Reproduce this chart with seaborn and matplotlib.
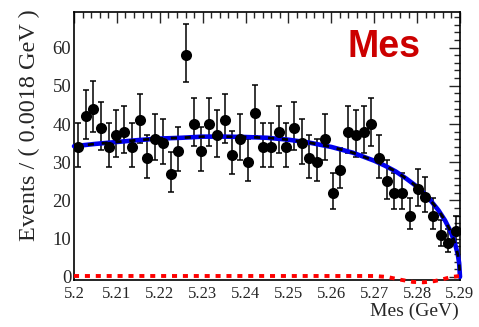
import numpy as np
import pandas as pd
import matplotlib
matplotlib.use("Agg")
import matplotlib.pyplot as plt
from matplotlib.ticker import MultipleLocator
import seaborn as sns

# ---- data ----
bin_lo = 5.20
bin_width = 0.0018
counts = [34, 42, 44, 39, 34, 37, 38, 34, 41, 31,
          36, 35, 27, 33, 58, 40, 33, 40, 37, 41,
          32, 36, 30, 43, 34, 34, 38, 34, 39, 35,
          31, 30, 36, 22, 28, 38, 37, 38, 40, 31,
          25, 22, 22, 16, 23, 21, 16, 11, 9, 12]

fit_x = [5.200, 5.205, 5.210, 5.215, 5.220, 5.225, 5.230, 5.235, 5.240, 5.245,
         5.250, 5.255, 5.260, 5.265, 5.270, 5.2725, 5.275, 5.2775, 5.280, 5.2825,
         5.285, 5.2865, 5.2875, 5.2885, 5.289, 5.2895, 5.2898, 5.290]
fit_y = [34.2, 34.8, 35.3, 35.8, 36.2, 36.4, 36.7, 36.7, 36.6, 36.4,
         35.9, 35.1, 34.0, 32.5, 30.4, 29.1, 27.6, 25.7, 23.6, 20.9,
         17.4, 14.8, 12.6, 9.9, 8.0, 5.8, 3.6, 0.0]

peak_x = [5.200, 5.270, 5.273, 5.276, 5.279, 5.2815, 5.284, 5.286, 5.288, 5.290]
peak_y = [0.25, 0.25, 0.0, -0.7, -1.3, -1.4, -1.1, -0.6, 0.0, 0.25]

xticks = [5.20, 5.21, 5.22, 5.23, 5.24, 5.25, 5.26, 5.27, 5.28, 5.29]
xtick_labels = ["5.2", "5.21", "5.22", "5.23", "5.24", "5.25", "5.26", "5.27", "5.28", "5.29"]
yticks = [0, 10, 20, 30, 40, 50, 60]

# ---- build frames ----
centers = bin_lo + bin_width * (np.arange(len(counts)) + 0.5)
cnt = np.array(counts, dtype=float)
err_up = 0.5 + np.sqrt(cnt + 0.25)
err_lo = -0.5 + np.sqrt(cnt + 0.25)
df_pts = pd.DataFrame({"m": centers, "n": cnt})
df_fit = pd.DataFrame({"m": fit_x, "y": fit_y})
df_peak = pd.DataFrame({"m": peak_x, "y": peak_y})

sns.set_style("white")
plt.rcParams["font.family"] = ["Liberation Serif", "DejaVu Serif"]

fig = plt.figure(figsize=(4.79, 3.27), dpi=100)
ax = fig.add_axes([74 / 479, 1 - 280 / 327, 386 / 479, 268 / 327])

# error bars
ax.errorbar(centers, cnt, yerr=[err_lo, err_up], fmt="none", ecolor="black",
            elinewidth=1.1, capsize=2.2, capthick=1.1, zorder=3)

# fit curves
sns.lineplot(data=df_fit, x="m", y="y", ax=ax, color="#0000ee", lw=3.3,
             zorder=4, clip_on=False)
sns.lineplot(data=df_fit, x="m", y="y", ax=ax, color="black", lw=2.0,
             zorder=5, clip_on=False)
ax.lines[-1].set_dashes([2.2, 2.8])
sns.lineplot(data=df_peak, x="m", y="y", ax=ax, color="#ff0000", lw=2.8,
             zorder=4, clip_on=False)
ax.lines[-1].set_dashes([1.3, 1.5])

# points
sns.scatterplot(data=df_pts, x="m", y="n", ax=ax, color="black", s=64,
                edgecolor="black", linewidth=0, zorder=6)

ax.set_xlim(5.20, 5.29)
ax.set_ylim(-0.8, 69.3)
ax.set_xticks(xticks)
ax.set_xticklabels(xtick_labels)
ax.set_yticks(yticks)
ax.xaxis.set_minor_locator(MultipleLocator(0.002))
ax.yaxis.set_minor_locator(MultipleLocator(2))
ax.tick_params(which="both", direction="in", top=True, right=True,
               width=1.0)
ax.tick_params(axis="x", labelsize=12, pad=4)
ax.tick_params(axis="y", labelsize=13.5, pad=2)
ax.tick_params(which="major", length=8)
ax.tick_params(which="minor", length=4)
for s in ax.spines.values():
    s.set_linewidth(1.2)
    s.set_color("black")

ax.set_xlabel("")
ax.set_ylabel("")
fig.text(459 / 479, 1 - 311 / 327, "Mes (GeV)", ha="right", va="center",
         fontsize=14)
fig.text(29 / 479, 1 - 9 / 327, "Events / ( 0.0018 GeV )", ha="center",
         va="top", rotation=90, fontsize=17.5)

ax.text((420 - 74) / 386, (280 - 47) / 268, "Mes", transform=ax.transAxes,
        ha="right", va="center", color="#cc0000", fontsize=27,
        fontweight="bold", family=["Liberation Sans", "DejaVu Sans"])

fig.savefig("out.png", dpi=100)
